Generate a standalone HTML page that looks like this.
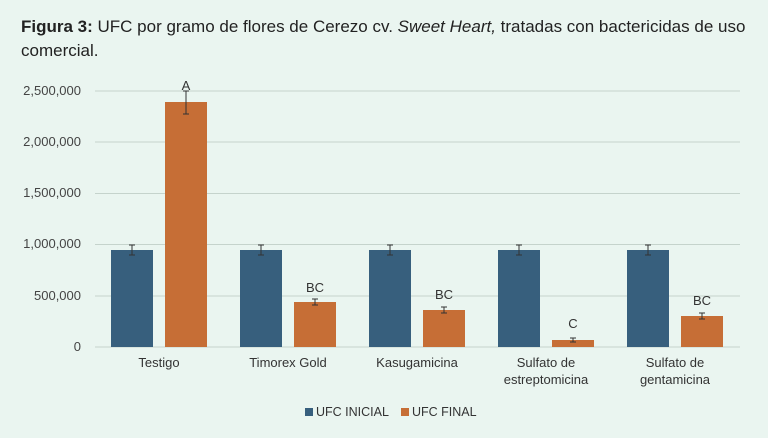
<!DOCTYPE html><html><head><style>
body{margin:0;width:768px;height:433px;background:#eaf5f0;overflow:hidden;font-family:"Liberation Sans",sans-serif}
</style></head><body>
<svg width="768" height="433" xmlns="http://www.w3.org/2000/svg" font-family="Liberation Sans, sans-serif">
<rect width="768" height="433" fill="#eaf5f0"/>
<text x="21" y="32" font-size="17" fill="#222"><tspan font-weight="bold">Figura 3:</tspan> UFC por gramo de flores de Cerezo cv. <tspan font-style="italic">Sweet Heart,</tspan> tratadas con bactericidas de uso</text>
<text x="21" y="56" font-size="17" fill="#222">comercial.</text>
<g stroke="#c5d3cc" stroke-width="1">
<line x1="95" x2="740" y1="91" y2="91"/><line x1="95" x2="740" y1="142" y2="142"/>
<line x1="95" x2="740" y1="193.5" y2="193.5"/><line x1="95" x2="740" y1="244.5" y2="244.5"/>
<line x1="95" x2="740" y1="296" y2="296"/><line x1="95" x2="740" y1="347" y2="347"/>
</g>
<g font-size="13" fill="#444" text-anchor="end">
<text x="81" y="95">2,500,000</text><text x="81" y="146">2,000,000</text><text x="81" y="197">1,500,000</text>
<text x="81" y="248">1,000,000</text><text x="81" y="300">500,000</text><text x="81" y="351">0</text>
</g>
<g fill="#375f7d">
<rect x="111" y="250" width="42" height="97"/><rect x="240" y="250" width="42" height="97"/>
<rect x="369" y="250" width="42" height="97"/><rect x="498" y="250" width="42" height="97"/>
<rect x="627" y="250" width="42" height="97"/>
</g>
<g fill="#c66e36">
<rect x="165" y="102" width="42" height="245"/><rect x="294" y="302" width="42" height="45"/>
<rect x="423" y="310" width="42" height="37"/><rect x="552" y="340" width="42" height="7"/>
<rect x="681" y="316" width="42" height="31"/>
</g>
<g stroke="#333" stroke-width="1">
<path d="M132 245V255M129 245h6M129 255h6"/><path d="M261 245V255M258 245h6M258 255h6"/>
<path d="M390 245V255M387 245h6M387 255h6"/><path d="M519 245V255M516 245h6M516 255h6"/>
<path d="M648 245V255M645 245h6M645 255h6"/>
<path d="M186 91V114M183 91h6M183 114h6"/><path d="M315 299V305M312 299h6M312 305h6"/>
<path d="M444 307V313M441 307h6M441 313h6"/><path d="M573 338V342M570 338h6M570 342h6"/>
<path d="M702 313V319M699 313h6M699 319h6"/>
</g>
<g font-size="13" fill="#333" text-anchor="middle">
<text x="186" y="90">A</text><text x="315" y="292">BC</text><text x="444" y="299">BC</text>
<text x="573" y="328">C</text><text x="702" y="305">BC</text>
</g>
<g font-size="13" fill="#333" text-anchor="middle">
<text x="159" y="367">Testigo</text><text x="288" y="367">Timorex Gold</text><text x="417" y="367">Kasugamicina</text>
<text x="546" y="367">Sulfato de</text><text x="546" y="384">estreptomicina</text>
<text x="675" y="367">Sulfato de</text><text x="675" y="384">gentamicina</text>
</g>
<rect x="305" y="408" width="8" height="8" fill="#375f7d"/>
<text x="316" y="416" font-size="12.5" fill="#333">UFC INICIAL</text>
<rect x="401" y="408" width="8" height="8" fill="#c66e36"/>
<text x="412" y="416" font-size="12.5" fill="#333">UFC FINAL</text>
</svg>
</body></html>
